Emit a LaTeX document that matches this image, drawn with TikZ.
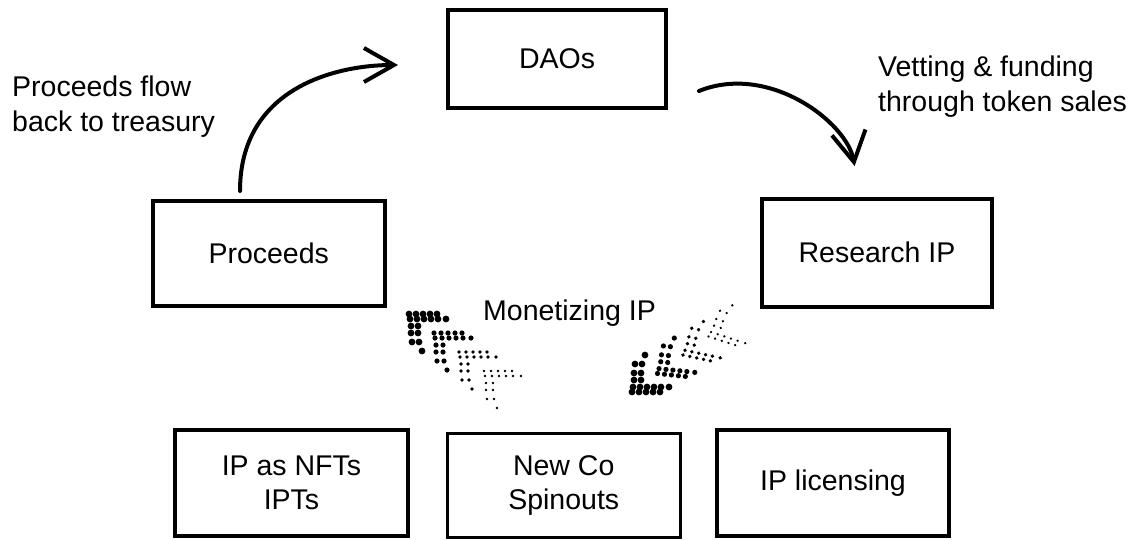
\documentclass[tikz,border=0pt]{standalone}
\usepackage{fontspec}
\setmainfont{Liberation Sans}
\usetikzlibrary{arrows.meta}
\newcommand{\dotchev}{0/0,7/0,14/0,21/0,28/0,1/5,8/5,15/5,22/5,29/5,37/5,2/12,9/12,2/19,9/19,3/28,10/28,13/37}
\tikzset{
  box/.style={draw, line width=4pt, align=center, inner sep=0pt, font=\fontsize{28.5}{34}\selectfont},
  lbl/.style={align=left, inner sep=0pt, font=\fontsize{28.5}{35}\selectfont},
  flow/.style={line width=4pt, line cap=round, -{Straight Barb[length=30pt,width=34pt,line width=4pt]}}
}
\begin{document}
\begin{tikzpicture}[x=1pt, y=-1pt]
        \useasboundingbox (0,0) rectangle (1141,539);
        \node[box, minimum width=218pt, minimum height=98pt] (dao) at (557,59) {DAOs};
        \node[box, minimum width=230pt, minimum height=108pt] (res) at (877,252.5) {Research IP};
        \node[box, minimum width=232.5pt, minimum height=105pt] (proc) at (268.75,253) {Proceeds};
        \node[box, minimum width=233pt, minimum height=106.5pt] (nft) at (291.5,483) {IP as NFTs\\IPTs};
        \node[box, line width=3pt, minimum width=233.5pt, minimum height=104pt] (newco) at (563.75,485) {New Co\\Spinouts};
        \node[box, minimum width=232.5pt, minimum height=106.5pt] (lic) at (833,483) {IP licensing};

        \node[lbl, anchor=north west] (back) at (12,76) {Proceeds flow\\back to treasury};
        \node[lbl, anchor=north west] (vet) at (878,56) {Vetting \& funding\\through token sales};
        \node[lbl, anchor=base west] (mon) at (483,320) {Monetizing IP};

        \draw[flow, shorten <=7.5pt, shorten >=48pt] ([xshift=-28.75pt]proc.north) to[out=90,in=180,looseness=1.15] ([yshift=-6pt]dao.west);
        \draw[flow, shorten >=31pt] ([xshift=31pt,yshift=-32pt]dao.east) to[out=22,in=100] ([xshift=-17pt]res.north);

        \foreach \k/\r in {0/3.4,1/2.6,2/1.9,3/1.3} {
            \begin{scope}[shift={(409+25*\k,314+19*\k)}]
                \foreach \a/\b in \dotchev \fill (\a,\b) circle (\r pt);
            \end{scope}
            \begin{scope}[shift={(632+25.5*\k,392-18.5*\k)}, rotate=-6*\k, yscale=-1]
                \foreach \a/\b in \dotchev \fill (\a,\b) circle (\r pt);
            \end{scope}
        }
\end{tikzpicture}
\end{document}
